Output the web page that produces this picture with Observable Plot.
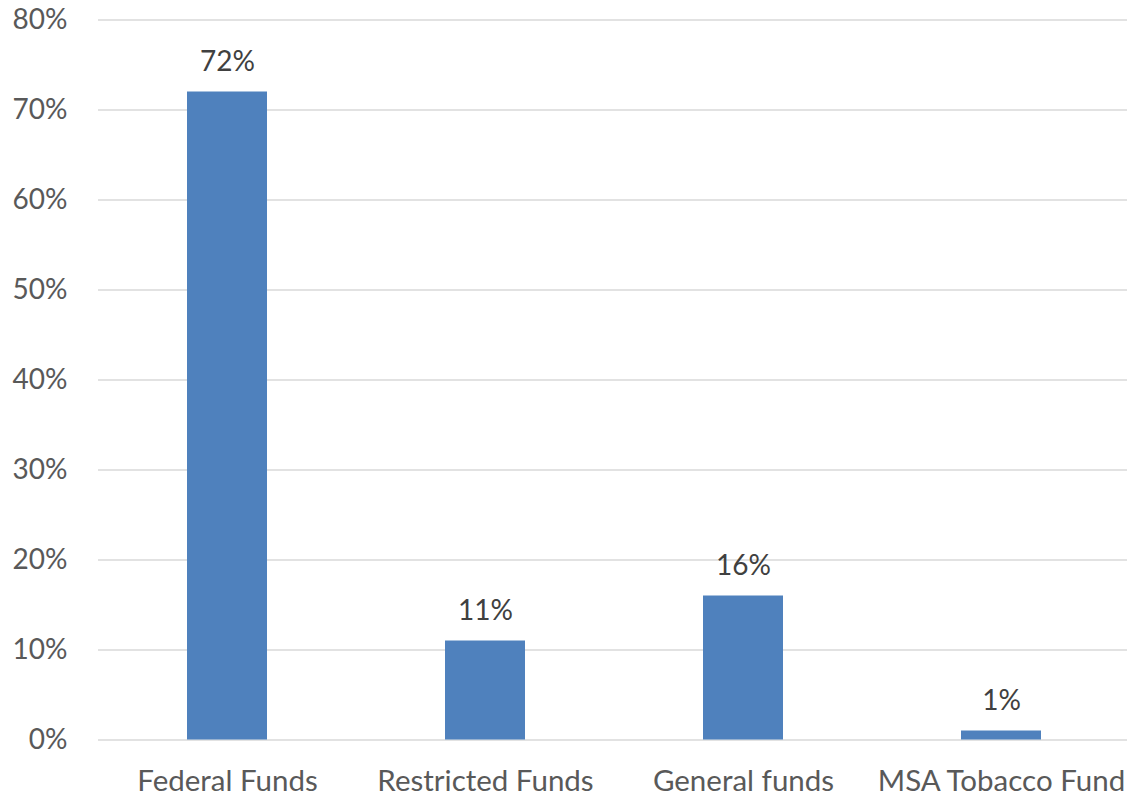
<!DOCTYPE html>
<html>
<head>
<meta charset="utf-8">
<script src="https://cdn.jsdelivr.net/npm/d3@7"></script>
<script src="https://cdn.jsdelivr.net/npm/@observablehq/plot@0.6"></script>
<style>
  html, body { margin: 0; padding: 0; background: #fff; }
  #chart { width: 1127px; height: 796px; }
</style>
</head>
<body>
<div id="chart"></div>
<script>
const categories = ["Federal Funds", "Restricted Funds", "General funds", "MSA Tobacco Fund"];
const values = [72, 11, 16, 1];
const yTicks = [0, 10, 20, 30, 40, 50, 60, 70, 80];

const data = categories.map((c, i) => ({category: c, value: values[i]}));
const fmt = d => d + "%";

const chart = Plot.plot({
  width: 1127,
  height: 796,
  marginLeft: 98,
  marginRight: 0,
  marginTop: 19.5,
  marginBottom: 56.5,
  style: {fontFamily: "Lato, 'Noto Sans', sans-serif", background: "#fff"},
  x: {domain: categories, range: [98, 1130], paddingInner: 0.69, paddingOuter: 0.345, align: 0.5, label: null},
  y: {domain: [0, 80], range: [739.5, 19.5], label: null},
  marks: [
    Plot.ruleY(yTicks, {stroke: "#d9d9d9", strokeWidth: 1.3}),
    Plot.barY(data, {x: "category", y: "value", fill: "#4f81bd"}),
    Plot.text(data, {x: "category", y: "value", text: d => fmt(d.value), dy: -30, fontSize: 28, fill: "#404040"}),
    Plot.axisY(yTicks, {tickSize: 0, tickPadding: 31, fontSize: 28, tickFormat: fmt, color: "#595959", label: null}),
    Plot.axisX({tickSize: 0, tickPadding: 30, fontSize: 29.5, color: "#595959", label: null})
  ]
});
document.getElementById("chart").appendChild(chart);
</script>
</body>
</html>
